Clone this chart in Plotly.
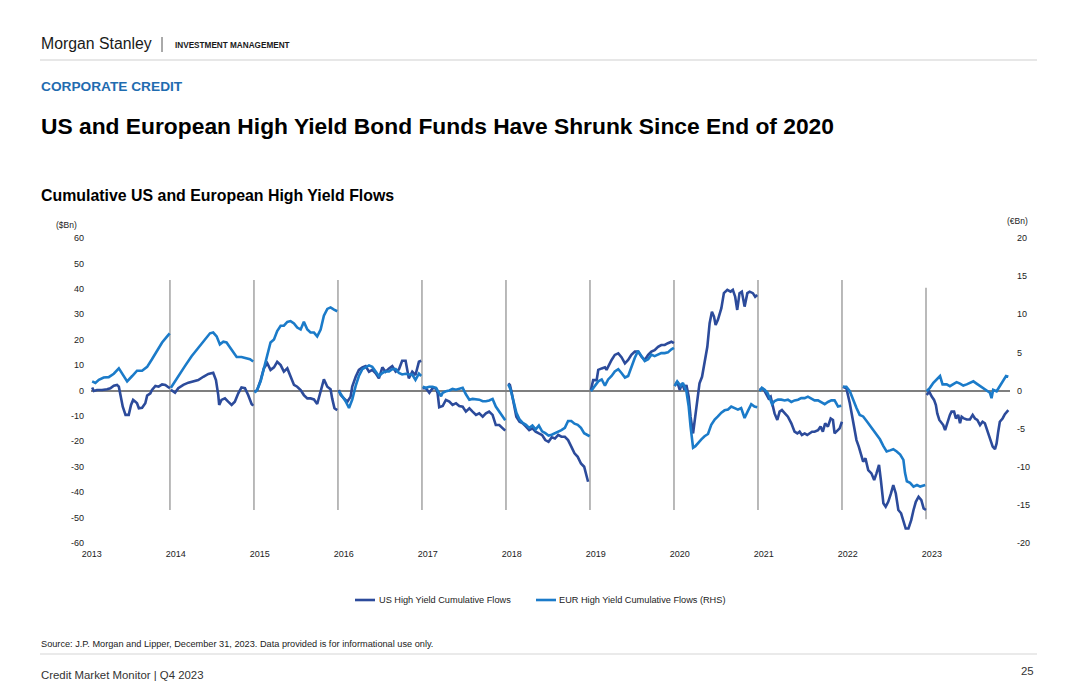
import plotly.graph_objects as go

# ---------------- DATA (day-of-year, value) per calendar year ----------------
# US High Yield cumulative flows ($Bn, left axis)
us_2013 = [(27,1.2),(34,-0.2),(48,0.2),(70,0.2),(92,0.5),(106,0.9),(121,1.9),(135,2.2),(143,1.5),(150,-1.8),(160,-6.4),(172,-9.6),(186,-9.6),(196,-5.7),(205,-3.7),(215,-4.4),(222,-5.0),(230,-7.0),(244,-6.8),(258,-5.0),(266,-2.0),(280,-1.1),(287,0.2),(302,1.8),(316,1.5),(331,2.4),(345,2.2),(360,1.2),(365,0.9)]
us_2014 = [(4,0.3),(22,-0.9),(36,0.9),(58,2.2),(80,3.1),(101,3.5),(123,4.1),(145,5.4),(167,6.5),(188,7.0),(200,4.1),(210,-1.8),(214,-5.7),(224,-3.7),(239,-3.1),(253,-4.4),(268,-5.7),(282,-4.4),(297,-1.1),(311,1.2),(326,0.9),(340,-1.8),(355,-5.3),(362,-6.0)]
us_2015 = [(3,-0.5),(14,0.2),(29,4.1),(43,8.7),(58,10.7),(72,8.1),(87,9.1),(101,11.3),(116,10.0),(130,7.4),(145,8.7),(159,5.4),(174,2.2),(188,1.5),(203,0.2),(217,-1.8),(232,-3.1),(246,-3.1),(261,-3.5),(275,-5.3),(290,0.2),(304,4.4),(319,1.5),(333,0.5),(340,-3.1),(350,-7.0),(362,-7.7)]
us_2016 = [(4,0.2),(12,-1.8),(26,-3.1),(41,-4.4),(55,-2.4),(62,1.5),(77,5.4),(91,8.1),(106,9.1),(120,9.6),(135,7.4),(149,8.1),(164,6.8),(178,4.8),(193,9.1),(207,7.4),(222,8.7),(236,9.6),(251,7.4),(265,8.3),(279,11.7),(294,11.7),(308,4.8),(323,7.4),(337,6.1),(352,11.3),(362,11.7)]
us_2017 = [(3,0.9),(17,0.9),(32,-0.9),(46,0.9),(61,0.9),(68,-1.1),(75,-6.6),(90,-6.1),(104,-3.7),(119,-4.4),(133,-5.7),(148,-5.0),(162,-6.1),(177,-6.4),(191,-8.3),(206,-7.0),(220,-8.3),(235,-9.6),(249,-9.0),(264,-10.3),(278,-9.0),(292,-8.3),(307,-9.6),(321,-13.6),(336,-13.6),(343,-14.2),(353,-14.9),(362,-15.8)]
us_2018 = [(10,2.8),(17,2.2),(24,-0.5),(34,-5.0),(45,-10.3),(59,-12.3),(73,-12.9),(87,-14.2),(101,-15.6),(115,-14.9),(129,-16.2),(143,-16.9),(157,-17.5),(171,-19.5),(185,-20.2),(199,-18.4),(213,-18.9),(227,-17.5),(241,-18.2),(256,-18.2),(270,-19.5),(284,-22.1),(298,-24.7),(312,-26.1),(326,-28.7),(340,-30.0),(347,-32.6),(357,-35.9)]
us_2019 = [(4,0.2),(14,4.1),(29,4.1),(36,8.1),(51,8.7),(65,9.1),(72,8.1),(82,10.0),(94,12.0),(108,14.0),(123,14.6),(137,13.1),(152,10.7),(166,12.0),(180,14.0),(195,15.3),(209,15.3),(224,13.3),(238,12.0),(253,14.0),(267,15.3),(281,15.9),(296,17.2),(310,17.9),(325,17.9),(339,18.6),(354,19.2),(365,18.6)]
us_2020 = [(3,1.8),(14,3.5),(25,0.2),(35,2.8),(46,0.2),(54,2.2),(64,-2.4),(72,-10.3),(83,-16.9),(93,-10.3),(101,-3.7),(111,2.8),(122,5.4),(133,10.7),(145,17.2),(155,26.5),(165,31.0),(174,29.1),(181,25.8),(191,27.8),(206,32.4),(217,38.3),(232,39.6),(246,38.9),(256,39.6),(266,36.9),(275,31.7),(285,38.3),(295,38.9),(307,33.0),(319,38.3),(329,38.9),(343,38.3),(353,36.9),(362,37.6)]
us_2021 = [(7,0.2),(17,0.9),(26,0.2),(36,-1.8),(46,-3.1),(55,-2.4),(65,-7.0),(72,-9.0),(84,-11.6),(94,-8.3),(104,-7.7),(116,-9.0),(130,-10.3),(145,-12.9),(159,-16.2),(171,-16.9),(181,-16.2),(191,-17.5),(203,-16.9),(214,-17.5),(224,-16.9),(235,-16.2),(246,-16.2),(261,-15.6),(272,-14.2),(282,-16.2),(292,-12.9),(304,-14.2),(316,-11.0),(326,-11.6),(333,-16.9),(345,-15.6),(355,-14.9),(365,-12.3)]
us_2022 = [(4,1.5),(19,0.9),(34,-5.0),(44,-10.3),(53,-14.2),(63,-19.5),(73,-22.1),(82,-24.7),(92,-28.0),(102,-26.7),(114,-31.3),(128,-32.6),(140,-35.2),(150,-32.6),(161,-29.3),(169,-35.2),(180,-44.4),(190,-45.7),(201,-43.8),(213,-40.5),(223,-37.2),(234,-40.5),(245,-47.0),(257,-48.3),(267,-51.7),(277,-54.3),(289,-54.3),(301,-51.0),(311,-47.0),(321,-43.8),(333,-41.8),(345,-43.1),(355,-46.4),(365,-47.0)]
us_2023 = [(3,-1.8),(14,-0.5),(25,-2.4),(35,-3.7),(43,-5.7),(49,-9.0),(58,-11.6),(68,-12.9),(75,-13.6),(83,-15.6),(93,-12.3),(104,-9.6),(111,-8.3),(122,-8.3),(130,-11.0),(140,-9.6),(148,-12.9),(155,-10.3),(165,-11.0),(177,-11.4),(191,-11.4),(203,-9.6),(213,-11.0),(223,-11.6),(235,-13.6),(246,-12.3),(256,-12.9),(266,-15.6),(278,-19.5),(290,-22.1),(300,-23.1),(307,-20.8),(314,-16.2),(321,-12.3),(333,-11.0),(343,-9.3),(358,-7.7)]

# EUR High Yield cumulative flows (EUR Bn, right axis)
eur_2013 = [(27,1.2),(41,1.0),(56,1.4),(77,1.7),(99,1.75),(121,2.2),(143,2.9),(157,2.3),(179,1.2),(201,1.9),(222,2.6),(244,2.6),(266,3.1),(287,4.1),(309,5.2),(331,6.3),(353,7.1),(364,7.5)]
eur_2014 = [(4,0.36),(36,1.9),(65,3.2),(94,4.5),(123,5.6),(145,6.3),(159,6.9),(174,7.5),(188,7.6),(203,7.1),(217,6.05),(232,6.4),(246,6.3),(268,5.4),(290,4.4),(311,4.4),(333,4.2),(348,4.1),(362,3.8)]
eur_2015 = [(3,-0.3),(14,0.1),(29,1.2),(43,3.0),(58,4.7),(72,6.3),(87,6.7),(101,7.8),(116,8.5),(130,8.5),(145,9.0),(159,9.1),(174,8.8),(188,8.25),(203,8.0),(217,9.0),(232,8.0),(246,7.6),(261,7.6),(275,7.1),(290,8.0),(304,9.8),(319,10.7),(333,10.9),(348,10.6),(362,10.4)]
eur_2016 = [(4,-0.1),(19,-0.75),(33,-1.4),(48,-2.3),(62,-1.2),(77,0.6),(91,1.9),(106,2.8),(120,3.0),(135,3.3),(149,3.1),(164,2.5),(178,1.9),(193,2.3),(207,2.5),(222,2.5),(236,2.8),(251,2.8),(265,2.3),(279,2.1),(294,2.2),(308,2.1),(323,2.1),(337,1.4),(352,2.2),(362,1.9)]
eur_2017 = [(3,0.5),(17,0.35),(32,0.5),(46,0.5),(61,0.35),(75,-0.3),(83,-0.75),(90,-0.3),(104,-0.1),(119,0.0),(133,0.2),(148,0.1),(162,0.2),(177,0.35),(191,-0.5),(206,-1.2),(220,-1.1),(235,-1.2),(249,-1.2),(264,-1.4),(278,-1.4),(292,-1.3),(307,-1.1),(321,-2.1),(336,-2.7),(350,-3.4),(362,-3.9)]
eur_2018 = [(10,0.8),(20,0.13),(31,-1.2),(45,-2.9),(59,-3.8),(73,-4.25),(87,-4.5),(101,-4.9),(115,-4.6),(129,-5.1),(143,-4.6),(157,-5.35),(171,-5.6),(185,-5.9),(199,-5.8),(213,-5.6),(227,-5.5),(241,-5.2),(256,-4.9),(270,-4.0),(284,-4.0),(298,-4.35),(312,-4.5),(326,-4.9),(340,-5.6),(354,-5.9),(364,-6.0)]
eur_2019 = [(4,-0.1),(22,0.6),(36,1.2),(51,1.45),(65,0.65),(79,1.45),(94,1.9),(108,2.5),(123,2.8),(137,2.3),(152,1.7),(166,1.9),(180,3.2),(195,4.3),(209,5.2),(224,4.4),(238,3.85),(253,4.1),(267,4.7),(281,4.5),(296,4.7),(310,4.9),(325,4.9),(339,5.0),(354,5.4),(365,5.6)]
eur_2020 = [(3,0.57),(14,1.2),(29,0.6),(39,1.0),(54,-0.1),(64,-2.1),(72,-4.7),(83,-7.5),(93,-7.3),(104,-6.9),(119,-6.4),(133,-6.0),(148,-5.7),(162,-4.5),(177,-3.8),(191,-3.4),(206,-2.9),(220,-2.6),(235,-2.5),(249,-2.1),(264,-2.3),(278,-2.5),(292,-2.3),(307,-3.6),(321,-2.7),(336,-1.8),(350,-2.1),(362,-2.2)]
eur_2021 = [(7,-0.1),(17,0.35),(29,0.1),(41,-0.3),(51,-1.0),(61,-1.8),(72,-1.4),(87,-1.2),(101,-1.2),(116,-1.3),(130,-1.2),(145,-1.5),(159,-1.3),(174,-1.2),(188,-1.0),(203,-1.0),(217,-0.8),(232,-1.1),(246,-1.3),(261,-1.3),(275,-1.5),(290,-1.8),(304,-1.5),(319,-1.3),(333,-1.3),(348,-2.1),(362,-2.0)]
eur_2022 = [(4,0.5),(19,0.5),(34,-0.1),(48,-1.2),(63,-2.3),(77,-3.2),(92,-3.4),(107,-4.0),(121,-4.6),(136,-5.1),(150,-5.8),(165,-6.4),(180,-7.3),(194,-8.0),(209,-7.85),(223,-7.7),(238,-8.0),(253,-8.4),(267,-9.1),(274,-10.8),(282,-11.9),(296,-12.1),(311,-12.6),(326,-12.4),(340,-12.6),(355,-12.4),(362,-12.4)]
eur_2023 = [(3,-0.1),(17,0.35),(32,1.0),(46,1.45),(61,1.9),(72,0.8),(90,0.8),(104,0.57),(119,0.8),(133,1.1),(148,0.9),(162,0.65),(177,0.8),(191,1.0),(206,1.2),(220,0.9),(235,0.57),(249,0.35),(264,-0.1),(278,-0.3),(285,-1.0),(292,0.1),(307,-0.1),(321,0.57),(336,1.35),(348,1.9),(358,1.8)]

years = list(range(2013, 2024))
us_by_year = [us_2013, us_2014, us_2015, us_2016, us_2017, us_2018, us_2019, us_2020, us_2021, us_2022, us_2023]
eur_by_year = [eur_2013, eur_2014, eur_2015, eur_2016, eur_2017, eur_2018, eur_2019, eur_2020, eur_2021, eur_2022, eur_2023]

left_ticks = list(range(-60, 61, 10))
right_ticks = list(range(-20, 21, 5))

US_NAME = "US High Yield Cumulative Flows"
EUR_NAME = "EUR High Yield Cumulative Flows (RHS)"
US_COLOR = "#2C4B9B"
EUR_COLOR = "#1B7BC9"
FONT = "Liberation Sans, Arial, sans-serif"


def build(series):
    xs, ys = [], []
    for yr, pts in zip(years, series):
        for d, v in pts:
            xs.append(yr + d / 365.25)
            ys.append(v)
        xs.append(None)
        ys.append(None)
    return xs, ys


us_x, us_y = build(us_by_year)
eur_x, eur_y = build(eur_by_year)

fig = go.Figure()
fig.add_trace(go.Scatter(x=us_x, y=us_y, mode="lines", name=US_NAME,
                         line=dict(color=US_COLOR, width=2.6), connectgaps=False))
fig.add_trace(go.Scatter(x=eur_x, y=eur_y, mode="lines", name=EUR_NAME,
                         line=dict(color=EUR_COLOR, width=2.6), connectgaps=False, yaxis="y2"))

# target plot area in page pixels; the page body adds an 8px offset
W, H = 1080, 699
OFF = 8
L, R, T, B = 91, 1010, 238, 543


def px(x):
    return (x - L) / (R - L)


def py(y):
    return (B - y) / (B - T)


# year separator lines
shapes = []
for yr in years[1:]:
    top, bot = (40.4, -50.7) if yr == 2023 else (43.5, -47.0)
    shapes.append(dict(type="line", xref="x", yref="y", x0=yr, x1=yr, y0=bot, y1=top,
                       line=dict(color="#8C8C8C", width=1.2), layer="below"))

# header / footer rules
shapes.append(dict(type="line", xref="paper", yref="paper", x0=px(40), x1=px(1037), y0=py(60), y1=py(60),
                   line=dict(color="#CFCFCF", width=1)))
shapes.append(dict(type="line", xref="paper", yref="paper", x0=px(40), x1=px(1037), y0=py(654), y1=py(654),
                   line=dict(color="#D5D5D5", width=1)))
shapes.append(dict(type="line", xref="paper", yref="paper", x0=px(162), x1=px(162), y0=py(37), y1=py(52),
                   line=dict(color="#555555", width=1)))
# legend keys
shapes.append(dict(type="line", xref="paper", yref="paper", x0=px(355), x1=px(375), y0=py(600), y1=py(600),
                   line=dict(color=US_COLOR, width=2.6)))
shapes.append(dict(type="line", xref="paper", yref="paper", x0=px(536), x1=px(556), y0=py(600), y1=py(600),
                   line=dict(color=EUR_COLOR, width=2.6)))


def txt(text, x, y, size, color="#111111", bold=False, anchor="left", family=FONT):
    t = f"<b>{text}</b>" if bold else text
    return dict(text=t, xref="paper", yref="paper", x=px(x), y=py(y), xanchor=anchor, yanchor="middle",
                showarrow=False, font=dict(family=family, size=size, color=color))


annotations = [
    txt("Morgan Stanley", 39, 44, 15.8, "#1A1A1A"),
    txt("INVESTMENT MANAGEMENT", 173, 45, 8.2, "#1A1A1A", bold=True),
    txt("CORPORATE CREDIT", 39, 86, 13.7, "#1F6CB0", bold=True),
    txt("US and European High Yield Bond Funds Have Shrunk Since End of 2020", 39, 126, 22.8, "#000000", bold=True),
    txt("Cumulative US and European High Yield Flows", 39, 195, 15.9, "#000000", bold=True),
    txt("($Bn)", 54, 225, 8.5, "#222222"),
    txt("(€Bn)", 1005, 221, 8.5, "#222222"),
    txt(US_NAME, 377, 600, 9.2, "#222222"),
    txt(EUR_NAME, 557, 600, 9.2, "#222222"),
    txt("Source: J.P. Morgan and Lipper, December 31, 2023. Data provided is for informational use only.", 39, 644, 9.2, "#222222"),
    txt("Credit Market Monitor | Q4 2023", 39, 675, 11.4, "#333333"),
    txt("25", 1036, 671, 11.4, "#333333", anchor="right"),
]

fig.update_layout(
    width=W, height=H,
    margin=dict(l=L - OFF, r=W - (R - OFF), t=T - OFF, b=H - (B - OFF), pad=0),
    paper_bgcolor="white", plot_bgcolor="white",
    font=dict(family=FONT, size=9, color="#222222"),
    showlegend=False,
    xaxis=dict(range=[2013.06, 2024.0], tickvals=[y + 0.07 for y in years], ticktext=[str(y) for y in years],
               showgrid=False, zeroline=False, showline=False, ticks="", tickfont=dict(size=9),
               ticklabelstandoff=4, fixedrange=True),
    yaxis=dict(range=[-60, 60], tickvals=left_ticks, ticktext=[str(v) for v in left_ticks],
               showgrid=False, zeroline=True,
               zerolinecolor="#7F7F7F", zerolinewidth=1.5, showline=False, ticks="",
               tickfont=dict(size=9), ticklabelstandoff=6),
    yaxis2=dict(range=[-20, 20], tickvals=right_ticks, ticktext=[str(v) for v in right_ticks],
                overlaying="y", side="right", showgrid=False,
                zeroline=False, showline=False, ticks="", tickfont=dict(size=9), ticklabelstandoff=6),
    shapes=shapes,
    annotations=annotations,
)

fig.write_html("out.html")
